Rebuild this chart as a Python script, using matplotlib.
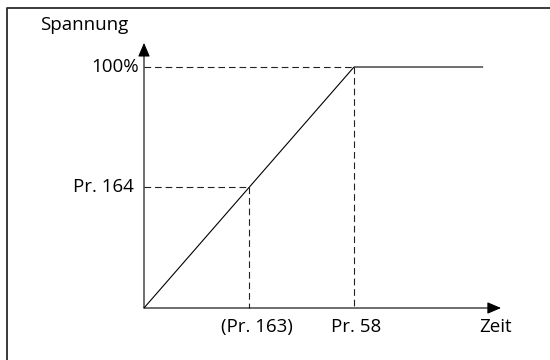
import matplotlib
matplotlib.use("Agg")
import matplotlib.pyplot as plt
from matplotlib.lines import Line2D

# ramp: voltage rises linearly up to Pr. 58, then stays at 100 %
ramp_t = [0.0, 1.0, 1.615]
ramp_v = [0.0, 100.0, 100.0]
t_pr163 = 0.5     # (Pr. 163)
v_pr164 = 50.0    # Pr. 164
t_pr58 = 1.0
v_full = 100.0

x_labels = ["(Pr. 163)", "Pr. 58"]
y_labels = ["Pr. 164", "100%"]

plt.rcParams['font.family'] = ['Open Sans', 'DejaVu Sans']

fig = plt.figure(figsize=(5.5, 3.6), dpi=100)
ax = fig.add_axes([0, 0, 1, 1])
ax.set_xlim(-144 / 210, 406 / 210)
ax.set_ylim(-52 / 2.41, 308 / 2.41)
ax.axis('off')

# outer frame (cut off at right and bottom)
fig.add_artist(Line2D([7 / 550, 7 / 550, 1.0], [0.0, 1 - 8 / 360, 1 - 8 / 360],
                      transform=fig.transFigure, color='#2b2b2b', lw=1.3))

arrow = dict(arrowstyle='-|>,head_length=0.7,head_width=0.3', color='black',
             lw=0.8, mutation_scale=12, shrinkA=0, shrinkB=0)
ax.annotate('', xy=(0, 110), xytext=(0, 0), arrowprops=arrow)
ax.annotate('', xy=(1.70, 0), xytext=(0, 0), arrowprops=arrow)

dash = dict(color='#222222', lw=0.8, dashes=(6, 3.5))
ax.plot([0, t_pr58], [v_full, v_full], **dash)
ax.plot([t_pr58, t_pr58], [v_full, 0], **dash)
ax.plot([0, t_pr163], [v_pr164, v_pr164], **dash)
ax.plot([t_pr163, t_pr163], [v_pr164, 0], **dash)

ax.plot(ramp_t, ramp_v, color='black', lw=0.8, solid_capstyle='butt')

fs = 13.5
ax.text(-0.495, 115.5, "Spannung", fontsize=fs, ha='left', va='baseline')
ax.text(-0.022, v_full, y_labels[1], fontsize=fs, ha='right', va='center')
ax.text(-0.048, v_pr164, y_labels[0], fontsize=fs, ha='right', va='center')
ax.text(t_pr163 + 0.038, -4, x_labels[0], fontsize=fs, ha='center', va='top')
ax.text(t_pr58 + 0.01, -4, x_labels[1], fontsize=fs, ha='center', va='top')
ax.text(1.676, -4, "Zeit", fontsize=fs, ha='center', va='top')

fig.savefig("out.png", dpi=100)
